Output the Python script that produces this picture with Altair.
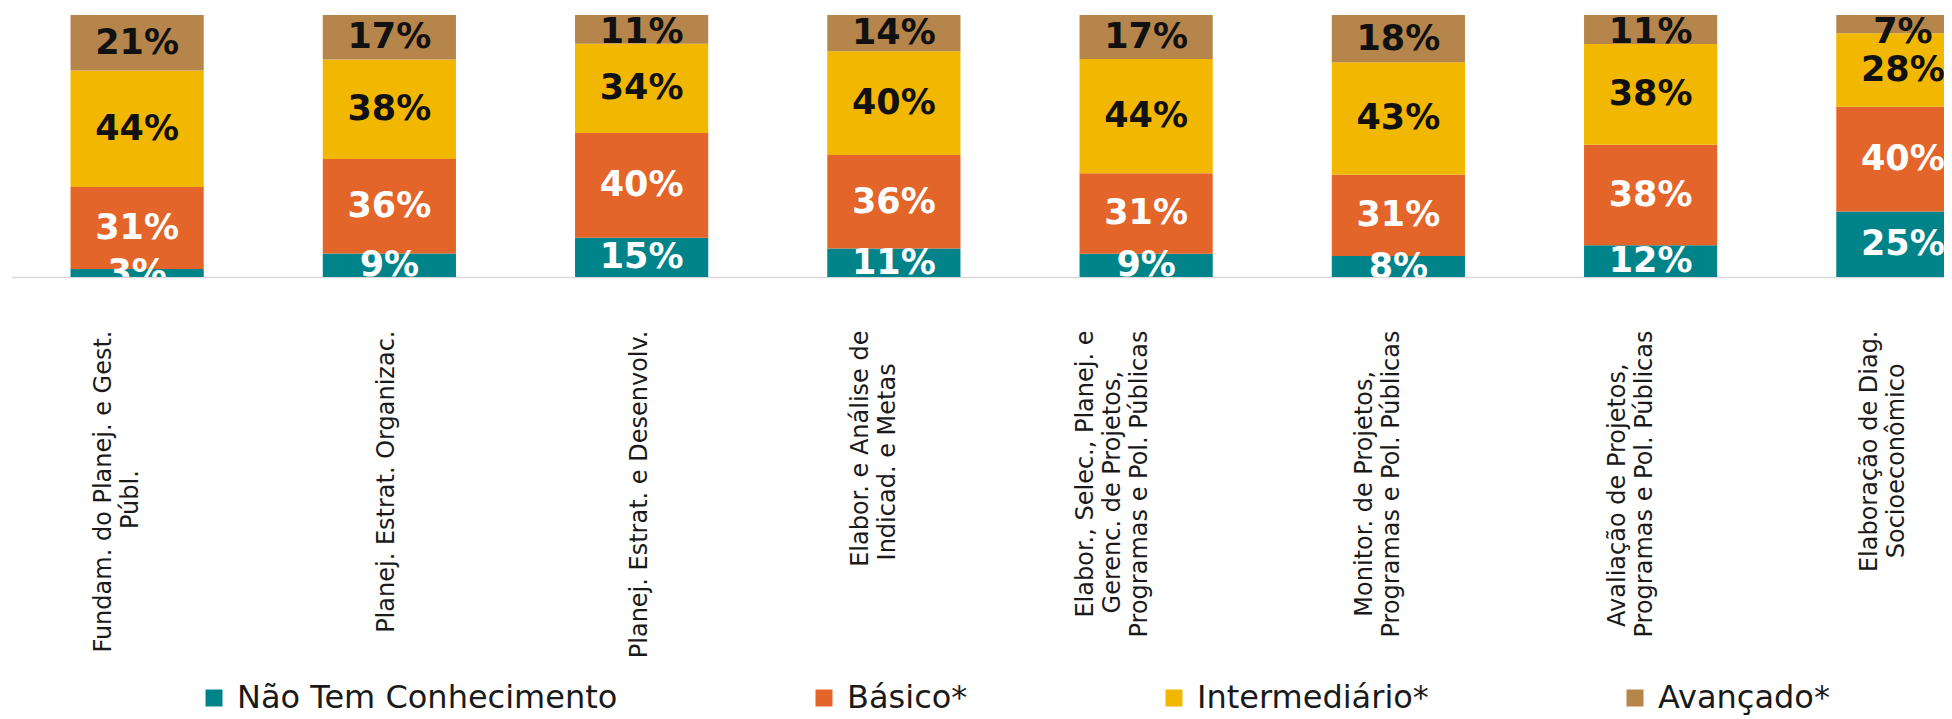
import altair as alt
import pandas as pd

NB = "\u00a0"
BK = "\u2800"  # blank glyph that keeps the preceding no-break spaces from collapsing
# category tick labels ("|" = line break; no-break spaces center the short lines)
categories = [
    "Fundam. do Planej. e Gest.|Públ." + NB * 16 + BK,
    "Planej. Estrat. Organizac.",
    "Planej. Estrat. e Desenvolv.",
    "Elabor. e Análise de|Indicad. e Metas" + NB * 2 + BK,
    "Elabor., Selec., Planej. e|Gerenc. de Projetos," + NB * 3 + BK + "|Programas e Pol. Públicas",
    "Monitor. de Projetos," + NB * 3 + BK + "|Programas e Pol. Públicas",
    "Avaliação de Projetos," + NB * 2 + BK + "|Programas e Pol. Públicas",
    "Elaboração de Diag.|Socioeconômico" + NB * 2 + BK,
]
levels = ["Não Tem Conhecimento", "Básico*", "Intermediário*", "Avançado*"]
nao_tem = [3, 9, 15, 11, 9, 8, 12, 25]
basico = [31, 36, 40, 36, 31, 31, 38, 40]
intermediario = [44, 38, 34, 40, 44, 43, 38, 28]
avancado = [21, 17, 11, 14, 17, 18, 11, 7]
colors = ["#00848A", "#E3652A", "#F2B700", "#B5854B"]

series = [nao_tem, basico, intermediario, avancado]
rows = []
for li, (lev, vals) in enumerate(zip(levels, series)):
    for cat, v in zip(categories, vals):
        rows.append({"cat": cat, "level": lev, "idx": li, "value": v})
df = pd.DataFrame(rows)

base = alt.Chart(df).transform_stack(
    stack="value", groupby=["cat"], sort=[alt.SortField("idx")],
    as_=["y0", "y1"], offset="normalize"
).transform_calculate(
    mid="min((datum.y0 + datum.y1) / 2, 0.935)",
    label="datum.value + '%'"
)

nlines = "length(split(datum.value, '|'))"
x_enc = alt.X(
    "cat:N", sort=categories, title=None,
    scale=alt.Scale(range=[0, 2018], paddingInner=0.472, paddingOuter=0.236),
    axis=alt.Axis(
        labelAngle=270, labelAlign="right", labelBaseline="bottom",
        labelOffset={
            "condition": [
                {"test": nlines + " == 3", "value": -48},
                {"test": nlines + " == 2", "value": -21},
            ],
            "value": 10,
        },
        labelPadding=53, ticks=False, tickSize=0,
        domainColor="#D9D9D9", domainWidth=1.5,
        labelFont="DejaVu Sans", labelFontSize=24, labelLineHeight=27,
        labelColor="#1a1a1a", labelLimit=1000, labelOverlap=False,
        labelBound=False, labelExpr="split(datum.label, '|')",
    ),
)

ydom = [0, 269 / 262]

bars = base.mark_bar().encode(
    x=x_enc,
    y=alt.Y("y0:Q", scale=alt.Scale(domain=ydom, nice=False, zero=True), axis=None),
    y2="y1:Q",
    color=alt.Color(
        "level:N", sort=levels,
        scale=alt.Scale(domain=levels, range=colors),
        legend=alt.Legend(
            orient="none", legendX=187, legendY=674, direction="horizontal",
            title=None, symbolType="square", symbolSize=289,
            symbolStrokeWidth=0, symbolOpacity=1,
            labelFont="DejaVu Sans", labelFontSize=32, labelColor="#1a1a1a",
            labelLimit=1000, labelOffset=7, columnPadding=190, padding=0,
        ),
    ),
)

texts = base.mark_text(
    font="DejaVu Sans", fontWeight="bold", fontSize=35,
    align="center", baseline="middle", clip=True,
).encode(
    x=alt.X("cat:N", sort=categories),
    y=alt.Y("mid:Q", scale=alt.Scale(domain=ydom, nice=False, zero=True)),
    text="label:N",
    color=alt.condition("datum.idx < 2", alt.value("white"), alt.value("#111111")),
)

chart = alt.layer(bars, texts).properties(
    width=1933, height=269,
    padding={"left": 3, "top": 0, "right": 0, "bottom": 442},
    autosize=alt.AutoSizeParams(type="none"),
    background="white",
).configure_view(stroke="transparent")

chart.save("out.html", embed_options={"renderer": "svg", "actions": False})
